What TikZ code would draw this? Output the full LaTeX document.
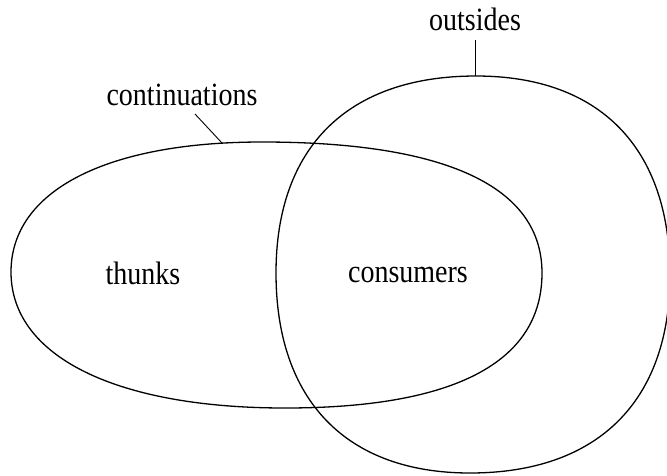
\documentclass[tikz,border=0pt]{standalone}
\usepackage{graphicx}
\usepackage{fontspec}
\setmainfont{Liberation Serif}
% labels are set slightly taller than the font's natural proportions
\newcommand{\tallword}[1]{\scalebox{1}[1.16]{#1}}
\begin{document}
\begin{tikzpicture}[x=1pt,y=-1pt,
  region/.style={draw=black,line width=1.3pt},
  tag/.style={font=\fontsize{28}{30}\selectfont,inner sep=0pt,anchor=base},
  pointer/.style={draw=black,line width=0.9pt}]
\useasboundingbox (0,0) rectangle (667,475);
\clip (0,0) rectangle (667,475);

% continuations: the wide blob on the left
\draw[region] (11,272)
  .. controls (11,191) and (106,142) .. (262,142)
  .. controls (447,142) and (542,187) .. (542,273)
  .. controls (542,362) and (455,408) .. (285,408)
  .. controls (115,408) and (11,356) .. (11,272) -- cycle;

% outsides: the rounded region on the right
\draw[region] (476,76)
  .. controls (600,76) and (670,148) .. (670,275)
  .. controls (670,401) and (598,473) .. (470,473)
  .. controls (346,473) and (276,400) .. (276,273)
  .. controls (276,147) and (348,76) .. (476,76) -- cycle;

% labels (placed by their baselines)
\node[tag] (outs) at (475,30) {\tallword{outsides}};
\node[tag] (cont) at (182,105) {\tallword{continuations}};
\node[tag] (thunks) at (143,284) {\tallword{thunks}};
\node[tag] (cons) at (408,282) {\tallword{consumers}};

% leader lines to the region outlines
\coordinate (outsTop) at (475,76);
\coordinate (contTop) at (222,143);
\draw[pointer] (475,40) -- (outsTop);
\draw[pointer] (195,114) -- (contTop);
\end{tikzpicture}
\end{document}
